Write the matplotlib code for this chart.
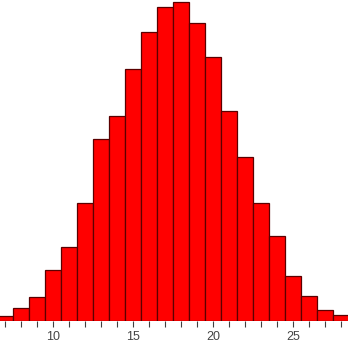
import matplotlib
matplotlib.use("Agg")
import matplotlib.pyplot as plt
from matplotlib.ticker import MultipleLocator

values = list(range(7, 29))
counts = [5, 13, 24, 51, 74, 118, 182, 205, 252, 289, 314, 319,
          298, 264, 210, 164, 118, 85, 45, 25, 11, 6]
major_ticks = [10, 15, 20, 25]

plt.rcParams['font.family'] = ['Liberation Sans', 'DejaVu Sans']

fig = plt.figure(figsize=(3.48, 3.48), dpi=100)
ax = fig.add_axes([0, 27 / 348, 1, 1 - 27 / 348])

ax.bar(values, counts, width=1.0, color='#ff0000', edgecolor='#5a0000', linewidth=0.9)

ax.set_xlim(6.69, 28.44)
ax.set_ylim(0, 321)
ax.set_xticks(major_ticks)
ax.xaxis.set_minor_locator(MultipleLocator(1))
ax.tick_params(axis='x', which='both', direction='out', length=4, width=0.8,
               color='#404040', labelsize=9, labelcolor='#444444', pad=3)
ax.set_yticks([])
for s in ['left', 'right', 'top', 'bottom']:
    ax.spines[s].set_visible(False)

fig.savefig('out.png', dpi=100)
